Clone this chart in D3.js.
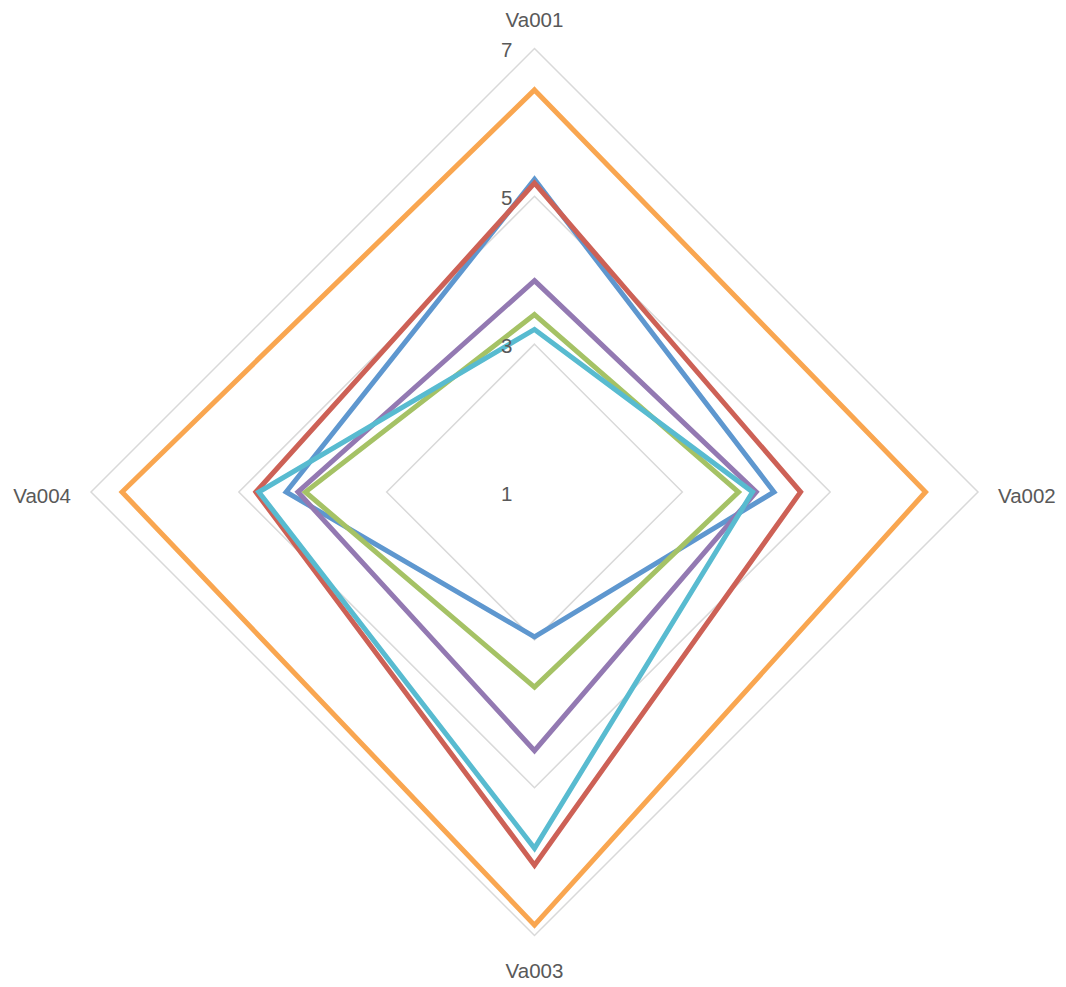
<!DOCTYPE html>
<html><head><meta charset="utf-8">
<script src="https://cdn.jsdelivr.net/npm/d3@7"></script>
<style>html,body{margin:0;padding:0;background:#fff;}</style>
</head><body>
<svg id="chart" width="1066" height="987"></svg>
<script>
const axes = ["Va001", "Va002", "Va003", "Va004"];
const tickValues = [1, 3, 5, 7];
const seriesNames = ["Series1", "Series2", "Series3", "Series4", "Series5", "Series6"];
const seriesColors = ["#5E97CF", "#CD6156", "#A5C265", "#9379B2", "#58BBD0", "#F9A650"];
const s1 = [5.23, 4.24, 2.96, 4.36];
const s2 = [5.18, 4.6, 6.05, 4.77];
const s3 = [3.4, 3.76, 3.64, 4.1];
const s4 = [3.86, 4.0, 4.5, 4.2];
const s5 = [3.2, 3.95, 5.82, 4.73];
const s6 = [6.44, 6.29, 6.86, 6.58];
const seriesValues = [s1, s2, s3, s4, s5, s6];

const svg = d3.select("#chart");
const cx = 534.5, cy = 492, R = 443.5;
const r = d3.scaleLinear().domain([1, 7]).range([0, R]);
const ang = d3.scalePoint().domain(axes).range([0, 2 * Math.PI * 3 / 4]);
const pt = (a, v) => [cx + r(v) * Math.sin(ang(a)), cy - r(v) * Math.cos(ang(a))];

const g = svg.append("g");
// grid
tickValues.filter(t => t > 1).forEach(t => {
  g.append("path")
    .attr("d", d3.line()(axes.map(a => pt(a, t))) + "Z")
    .attr("fill", "none").attr("stroke", "#d9d9d9").attr("stroke-width", 1.5);
});
// series
const line = d3.line();
seriesValues.forEach((vals, i) => {
  g.append("path")
    .attr("d", line(axes.map((a, j) => pt(a, vals[j]))) + "Z")
    .attr("fill", "none")
    .attr("stroke", seriesColors[i])
    .attr("stroke-width", 5)
    .attr("stroke-linejoin", "miter");
});
// tick labels
tickValues.forEach(t => {
  g.append("text")
    .attr("x", cx - 22).attr("y", cy - r(t) + 1)
    .attr("text-anchor", "end").attr("dominant-baseline", "central")
    .attr("font-family", "Liberation Sans, Arial, sans-serif")
    .attr("font-size", 20.5).attr("fill", "#595959")
    .text(t);
});
// axis labels
const labelPos = {
  "Va001": {x: cx, y: 19, anchor: "middle"},
  "Va002": {x: 998, y: cy + 3, anchor: "start"},
  "Va003": {x: cx, y: 970, anchor: "middle"},
  "Va004": {x: 71, y: cy + 3, anchor: "end"}
};
axes.forEach(a => {
  const p = labelPos[a];
  g.append("text")
    .attr("x", p.x).attr("y", p.y)
    .attr("text-anchor", p.anchor).attr("dominant-baseline", "central")
    .attr("font-family", "Liberation Sans, Arial, sans-serif")
    .attr("font-size", 20.5).attr("fill", "#595959")
    .text(a);
});
</script>
</body></html>
